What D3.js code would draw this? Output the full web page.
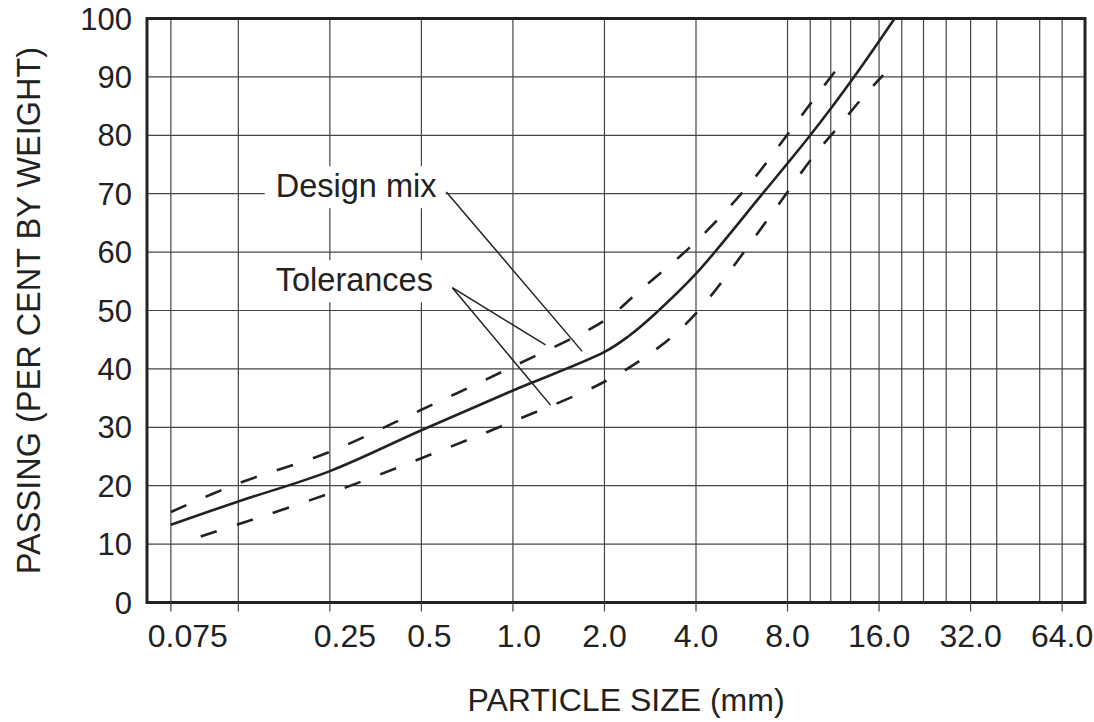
<!DOCTYPE html>
<html>
<head>
<meta charset="utf-8">
<script src="https://cdn.jsdelivr.net/npm/d3@7"></script>
<style>
  body { margin: 0; background: #fff; }
  svg { display: block; }
  text { font-family: "Liberation Sans", Arial, Helvetica, sans-serif; fill: #222; }
</style>
</head>
<body>
<svg id="chart" width="1094" height="722"></svg>
<script>
// ---------------- DATA ----------------
const yTickValues = [0, 10, 20, 30, 40, 50, 60, 70, 80, 90, 100];
const xTickValues = [0.075, 0.125, 0.25, 0.5, 1, 2, 4, 8, 16, 32, 64];
const xTickLabels = ["0.075", "", "0.25", "0.5", "1.0", "2.0", "4.0", "8.0", "16.0", "32.0", "64.0"];
// vertical grid lines (sieve sizes, mm)
const sieveSizes = [0.075, 0.125, 0.25, 0.5, 1, 2, 4, 8, 9.5, 11.1, 12.9, 16, 19, 22.4, 26.6, 32, 39, 54, 64];

// Design mix (solid)
const designSizes   = [0.075, 0.125, 0.25, 0.5, 1.0, 2.0, 2.4, 2.9, 4.0, 6.5, 9.6, 13.2, 18.0];
const designPassing = [13.3, 17.3, 22.5, 29.5, 36.3, 42.9, 45.6, 49.2, 56.3, 69.5, 80.3, 89.9, 100];

// Upper tolerance (dashed)
const upperSizes   = [0.075, 0.125, 0.25, 0.5, 1.0, 2.0, 2.6, 4.0, 5.9, 8.2, 10.0, 12.1];
const upperPassing = [15.5, 20.4, 25.8, 33.0, 40.4, 48.3, 53.3, 61.8, 71.2, 80.9, 86.9, 92.5];

// Lower tolerance (dashed)
const lowerSizes   = [0.094, 0.125, 0.25, 0.5, 1.0, 2.0, 3.0, 4.0, 7.0, 9.7, 11.9, 14.2, 16.5];
const lowerPassing = [11.3, 13.4, 18.7, 24.7, 31.0, 37.8, 43.6, 49.5, 66.1, 76.3, 81.8, 86.6, 90.3];

// Annotations (data units: size mm, % passing)
const annotationLabels = ["Design mix", "Tolerances"];
const annotationAnchor = [[0.166, 69.4], [0.166, 53.3]];
const leaderFrom = [[0.604, 70.3], [0.632, 53.9], [0.632, 53.9]];
const leaderTo   = [[1.69, 43.0], [1.28, 44.1], [1.33, 33.8]];

const xTitle = "PARTICLE SIZE (mm)";
const yTitle = "PASSING (PER CENT BY WEIGHT)";

// ---------------- CHART ----------------
(function () {
const svg = d3.select("#chart");
const pLeft = 147, pRight = 1085, pTop = 18.5, pBottom = 602.5;

const x = d3.scaleLog().domain([0.0626, 76.1]).range([pLeft, pRight]);
const y = d3.scaleLinear().domain([0, 100]).range([pBottom, pTop]);

const ink = "#222";

// grid
const grid = svg.append("g");
grid.selectAll("line.v").data(sieveSizes).enter().append("line")
  .attr("x1", d => x(d)).attr("x2", d => x(d))
  .attr("y1", pTop).attr("y2", pBottom)
  .attr("stroke", "#444").attr("stroke-width", 1.2);
grid.selectAll("line.h").data(yTickValues.filter(v => v > 0 && v < 100)).enter().append("line")
  .attr("x1", pLeft).attr("x2", pRight)
  .attr("y1", d => y(d)).attr("y2", d => y(d))
  .attr("stroke", "#444").attr("stroke-width", 1.2);

// label backgrounds (break grid lines around text)
const bgLayer = svg.append("g");

// curves
const line = d3.line().x(d => x(d[0])).y(d => y(d[1])).curve(d3.curveCatmullRom.alpha(0.5));
const zip = (a, b) => a.map((v, i) => [v, b[i]]);

svg.append("path").datum(zip(designSizes, designPassing))
  .attr("d", line).attr("fill", "none").attr("stroke", ink).attr("stroke-width", 2.6);
[zip(upperSizes, upperPassing), zip(lowerSizes, lowerPassing)].forEach(pts => {
  svg.append("path").datum(pts)
    .attr("d", line).attr("fill", "none").attr("stroke", ink).attr("stroke-width", 2.6)
    .attr("stroke-dasharray", "17,21");
});

// leaders
svg.selectAll("line.leader").data(leaderFrom).enter().append("line")
  .attr("x1", d => x(d[0])).attr("y1", d => y(d[1]))
  .attr("x2", (d, i) => x(leaderTo[i][0])).attr("y2", (d, i) => y(leaderTo[i][1]))
  .attr("stroke", ink).attr("stroke-width", 1.5);

// annotation labels
annotationLabels.forEach((t, i) => {
  const txt = svg.append("text")
    .attr("x", x(annotationAnchor[i][0])).attr("y", y(annotationAnchor[i][1]))
    .attr("font-size", 32.5).text(t);
  const bb = txt.node().getBBox();
  bgLayer.append("rect")
    .attr("x", bb.x - 11).attr("y", bb.y - 2)
    .attr("width", bb.width + 20).attr("height", bb.height + 6)
    .attr("fill", "#fff");
});

// frame
svg.append("rect")
  .attr("x", pLeft).attr("y", pTop).attr("width", pRight - pLeft).attr("height", pBottom - pTop)
  .attr("fill", "none").attr("stroke", "#222").attr("stroke-width", 3);

// x axis ticks & labels
const labelNudge = {"0.075": 17, "0.25": 15, "0.5": 8, "1.0": 6};
const xa = svg.append("g");
xa.selectAll("line").data(xTickValues).enter().append("line")
  .attr("x1", d => x(d)).attr("x2", d => x(d))
  .attr("y1", pBottom).attr("y2", pBottom + 9)
  .attr("stroke", "#444").attr("stroke-width", 1.2);
xa.selectAll("text").data(xTickValues).enter().append("text")
  .attr("x", (d, i) => x(d) + (labelNudge[xTickLabels[i]] || 0))
  .attr("y", 647)
  .attr("text-anchor", "middle").attr("font-size", 32)
  .text((d, i) => xTickLabels[i]);

// y axis labels
svg.append("g").selectAll("text").data(yTickValues).enter().append("text")
  .attr("x", 132).attr("y", d => y(d)).attr("dy", "0.36em")
  .attr("text-anchor", "end").attr("font-size", 31)
  .text(d => d);

// titles
svg.append("text").attr("x", 626).attr("y", 711)
  .attr("text-anchor", "middle").attr("font-size", 32).text(xTitle);
svg.append("text")
  .attr("transform", `translate(40,${(pTop + pBottom) / 2}) rotate(-90)`)
  .attr("text-anchor", "middle").attr("font-size", 32.5).text(yTitle);
})();
</script>
</body>
</html>
